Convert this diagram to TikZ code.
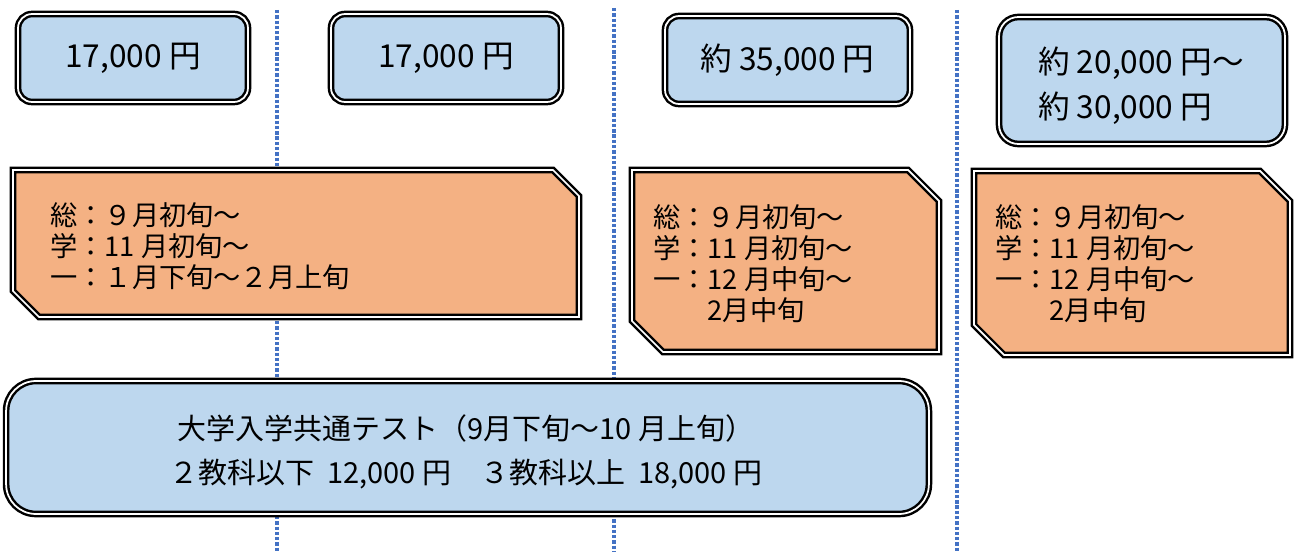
\documentclass[tikz,border=0pt]{standalone}
\usepackage{fontspec}
\setmainfont{Noto Sans CJK JP}
\usepackage{tikz}
\usetikzlibrary{positioning}
\definecolor{feeblue}{HTML}{BDD7EE}
\definecolor{termorange}{HTML}{F4B183}
\definecolor{gridblue}{HTML}{4472C4}

\begin{document}
\begin{tikzpicture}[x=0.02cm, y=-0.02cm,
        feebox/.style={draw=black, line width=1.4pt, double=white, double distance=1pt,
            fill=feeblue, rounded corners=8pt, inner sep=0pt, font=\fontsize{18pt}{20pt}\selectfont},
        termbox/.style={draw=black, line width=1.4pt, double=white, double distance=1pt, fill=termorange},
        termtext/.style={anchor=west, align=left, inner sep=0pt, font=\fontsize{15.5pt}{17.6pt}\selectfont},
        divider/.style={gridblue, line width=1.9pt, dash pattern=on 1.9pt off 1.1pt}]
    \useasboundingbox (0,0) rectangle (1298,554);

    % dotted column dividers
    \coordinate (d1top) at (277,10);  \coordinate (d1bot) at (277,552);
    \coordinate (d2top) at (614,8);   \coordinate (d2bot) at (614,552);
    \coordinate (d3top) at (957,10);  \coordinate (d3bot) at (957,552);
    \draw[divider] (d1top) -- (d1bot);
    \draw[divider] (d2top) -- (d2bot);
    \draw[divider] (d3top) -- (d3bot);

    % fees
    \node[feebox, minimum width=4.6cm, minimum height=1.76cm] at (133,58) (fee1) {17,000 円};
    \node[feebox, minimum width=4.6cm, minimum height=1.76cm] at (446,58) (fee2) {17,000 円};
    \node[feebox, minimum width=4.9cm, minimum height=1.76cm] at (787.5,60) (fee3) {約 35,000 円};
    \node[feebox, rounded corners=11pt, minimum width=5.72cm, minimum height=2.54cm] at (1142,80.5) (fee4) {};
    \node[align=left, inner sep=0pt, font=\fontsize{18pt}{25.6pt}\selectfont] at (1141,85.5) (fee4text)
        {約 20,000 円～\\約 30,000 円};

    % application periods
    \draw[termbox] (13,170) -- (553,170) -- (579,196) -- (579,317) -- (39,317) -- (13,291) -- cycle;
    \draw[termbox] (632,170) -- (908,170) -- (939,201) -- (939,352) -- (663,352) -- (632,321) -- cycle;
    \draw[termbox] (974,171) -- (1260,171) -- (1290,201) -- (1290,355) -- (1004,355) -- (974,325) -- cycle;
    \node[termtext] at (50,246) (term1) {総：９月初旬～\\学：11 月初旬～\\一：１月下旬～２月上旬};
    \node[termtext] at (653,263.5) (term2) {総：９月初旬～\\学：11 月初旬～\\一：12 月中旬～\\　　2月中旬};
    \node[termtext] at (995,264) (term3) {総：９月初旬～\\学：11 月初旬～\\一：12 月中旬～\\　　2月中旬};

    % common test
    \node[feebox, rounded corners=17pt, minimum width=18.46cm, minimum height=2.66cm] at (467.5,447.5) (exam) {};
    \node[align=center, inner sep=0pt, font=\fontsize{16.5pt}{25pt}\selectfont] at (466,452) (examtext)
        {大学入学共通テスト（9月下旬～10 月上旬）\\２教科以下\ \ 12,000 円　３教科以上\ \ 18,000 円};
\end{tikzpicture}
\end{document}
